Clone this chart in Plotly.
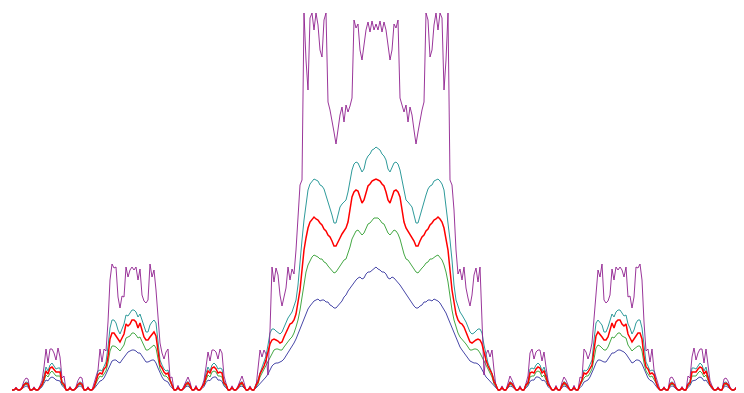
import plotly.graph_objects as go

# sample positions along the horizontal axis
position = list(range(12, 742, 2))

# ---- navy series ----
navy_left = [0,0,1,0,0,1.1,3,4.1,3,0,0,1,0,0,1.2,3.2,6.9,10,9.1,12,13,12,10,9.8,9,4.4,2.7,0,0,1.1,
             0,0,1.1,3.1,4.2,2.9,0,0,1.1,0,0,1.3,3.7,6.7,9,9.7,12,16,21,26,29,30,30,28,27,30,33,36,38,39,
             40,40,39,37,37,34,31,28,28,29,30,30,27,22,17,13,10,9,8,4.3,2.3,0,0,1.3,0,0,1.4,3.3,4.1,2.5,
             0,0,1.4,0,0,1.4,3.4,7.4,9.9,9.3,12,13,13,9.9,10,8.6,4.1,2.2,0,0,1.4,0,0,1.5,3.4,4,2.3,0,0,1.4,0,0]
navy_mid = [2,4,7,9,11,13,16,20,24,26,27,27,28,29,31,34,37,40,43,47,51,56,62,67,72,77,81,84,87,89,
            90,91,89,90,90,88,88,85,84,82,82,84,87,89,93,95,99,102,105,107,110,112,113,111,112,116,118,118,120,121,
            123,
            121,120,118,118,116,112,111,113,112,110,107,105,102,99,95,93,89,87,84,82,82,84,85,88,88,90,90,89,91,90,
            89,87,84,81,77,72,67,62,56,51,47,43,40,37,34,31,29,28,27,27,26,24,20,16,13,11,9,7,4,2]
navy_right = [0,0,1.4,0,0,2.3,4,3.4,1.5,0,0,1.4,0,0,2.2,4.1,8.6,10,9.9,13,13,12,9.3,9.9,7.4,3.4,1.4,0,0,1.4,
              0,0,2.5,4.1,3.3,1.4,0,0,1.3,0,0,2.3,4.3,8,9,10,13,17,22,27,30,30,29,28,28,31,34,37,37,39,
              40,40,39,38,36,33,30,27,28,30,30,29,26,21,16,12,9.7,9,6.7,3.7,1.3,0,0,1.1,0,0,2.9,4.2,3.1,1.1,
              0,0,1.1,0,0,2.7,4.4,9,9.8,10,12,13,12,9.1,10,6.9,3.2,1.2,0,0,1,0,0,3,4.1,3,1.1,0,0,1,0,0]

# ---- green series ----
green_left = [0,0,1.5,0,0,1.5,4.4,5.7,4.6,0,0,1.5,0,0,2.3,4.4,8.9,15,13,17,19,17,14,14,14,5.7,4.1,0,0,1.6,
              0,0,1.6,4.5,5.9,4.4,0,0,1.6,0,0,2,7,11,14,13,16,19,27,39,44,44,43,41,39,42,45,52,53,54,
              57,57,55,52,53,48,43,40,40,42,44,45,42,31,21,17,14,14,12,8.3,4.3,0,0,1.9,0,0,1.8,4.7,5.9,3.4,
              0,0,2,0,0,2.8,4.8,10,15,13,18,19,18,14,14,13,5.3,3.7,0,0,2,0,0,1.9,4.8,5.8,3,0,0,1.9,0,0]
green_mid = [3,6,13,17,21,25,28,33,37,40,41,41,40,40,43,46,48,51,53,57,63,70,80,92,108,118,125,130,133,135,
             134,133,131,131,128,127,124,122,120,117,118,121,124,127,130,131,136,143,151,156,159,160,158,155,157,162,166,167,170,172,
             172,
             172,170,167,166,162,157,155,158,160,159,156,151,143,136,131,130,127,124,121,118,117,120,122,124,127,128,131,131,133,134,
             135,133,130,125,118,108,92,80,70,63,57,53,51,48,46,43,40,40,41,41,40,37,33,28,25,21,17,13,6,3]
green_right = [0,0,1.9,0,0,3,5.8,4.8,1.9,0,0,2,0,0,3.7,5.3,13,14,14,18,19,18,13,15,10,4.8,2.8,0,0,2,
               0,0,3.4,5.9,4.7,1.8,0,0,1.9,0,0,4.3,8.3,12,14,14,17,21,31,42,45,44,42,40,40,43,48,53,52,55,
               57,57,54,53,52,45,42,39,41,43,44,44,39,27,19,16,13,14,11,7,2,0,0,1.6,0,0,4.4,5.9,4.5,1.6,
               0,0,1.6,0,0,4.1,5.7,14,14,14,17,19,17,13,15,8.9,4.4,2.3,0,0,1.5,0,0,4.6,5.7,4.4,1.5,0,0,1.5,0,0]

# ---- teal series ----
teal_left = [0,0,2.1,0,0,2.1,6.2,8.1,7.4,0,0,2.2,0,0,3,6.4,14,23,19,25,27,24,21,22,22,8.3,6.8,0,0,2.3,
             0,0,2.3,6.5,8.2,6.9,0,0,2.3,0,0,3.3,9,19,20,19,24,28,43,62,70,70,67,60,56,62,66,75,74,77,
             80,80,78,73,76,70,63,58,58,65,68,70,67,50,30,25,21,19,20,11,5.7,0,0,2.8,0,0,2.7,6.9,8.4,5.6,
             0,0,2.8,0,0,3.8,7,17,23,19,25,27,25,21,22,21,8,6.3,0,0,2.7,0,0,2.8,7,8.4,4.8,0,0,2.7,0,0]
teal_mid = [6,10,17,22,27,34,45,57,61,61,59,57,56,58,63,68,72,75,78,84,90,105,130,150,170,185,200,206,209,211,
            210,209,205,204,201,195,188,181,175,167,167,175,183,186,188,190,198,210,220,226,228,227,222,218,221,230,234,236,240,241,
            243,
            241,240,236,234,230,221,218,222,227,228,226,220,210,198,190,188,186,183,175,167,167,175,181,188,195,201,204,205,209,210,
            211,209,206,200,185,170,150,130,105,90,84,78,75,72,68,63,58,56,57,59,61,61,57,45,34,27,22,17,10,6]
teal_right = [0,0,2.7,0,0,4.8,8.4,7,2.8,0,0,2.7,0,0,6.3,8,21,22,21,25,27,25,19,23,17,7,3.8,0,0,2.8,
              0,0,5.6,8.4,6.9,2.7,0,0,2.8,0,0,5.7,11,20,19,21,25,30,50,67,70,68,65,58,58,63,70,76,73,78,
              80,80,77,74,75,66,62,56,60,67,70,70,62,43,28,24,19,20,19,9,3.3,0,0,2.3,0,0,6.9,8.2,6.5,2.3,
              0,0,2.3,0,0,6.8,8.3,22,22,21,24,27,25,19,23,14,6.4,3,0,0,2.2,0,0,7.4,8.1,6.2,2.1,0,0,2.1,0,0]

# ---- purple series ----
purple_left = [0,0,3,0,0,3.1,9.1,12,11,0,0,3.2,0,0,4.4,9.3,23,41,27,41,41,37,30,42,33,12,14,0,0,3.5,
               0,0,3.4,9.6,13,12,0,0,3.3,0,0,6.7,13,20,41,28,41,39,68,110,126,122,123,93,82,94,93,123,113,120,
               123,120,123,110,121,95,89,87,90,126,113,120,100,70,47,37,31,38,41,12,13,0,0,4.6,0,0,4.6,10,13,7.8,
               0,0,4.5,0,0,4,10,23,38,29,40,40,38,31,41,37,14,6.7,0,0,4.2,0,0,4.1,9.9,14,7.6,0,0,4.1,0,0]
purple_mid = [3,20,40,33,40,36,15,60,123,108,122,115,95,84,92,102,123,110,121,116,140,180,205,210,377,330,300,372,377,360,
              377,365,340,333,370,377,288,280,270,258,246,260,275,283,268,285,278,284,292,370,362,366,340,330,345,360,368,358,369,360,
              366,
              360,369,358,368,360,345,330,340,366,362,370,292,284,278,285,268,283,275,260,246,258,270,280,288,377,370,333,340,365,377,
              360,377,372,300,330,377,210,205,180,140,116,121,110,123,102,92,84,95,115,122,108,123,60,15,36,40,33,40,20,3]
purple_right = [0,0,4.1,0,0,7.6,14,9.9,4.1,0,0,4.2,0,0,6.7,14,37,41,31,38,40,40,29,38,23,10,4,0,0,4.5,
                0,0,7.8,13,10,4.6,0,0,4.6,0,0,13,12,41,38,31,37,47,70,100,120,113,126,90,87,89,95,121,110,123,
                120,123,120,113,123,93,94,82,93,123,122,126,110,68,39,41,28,41,20,13,6.7,0,0,3.3,0,0,12,13,9.6,3.4,
                0,0,3.5,0,0,14,12,33,42,30,37,41,41,27,41,23,9.3,4.4,0,0,3.2,0,0,11,12,9.1,3.1,0,0,3,0,0]

# ---- red series ----
red_left = [0,0,1.8,0,0,1.8,5.3,6.9,6,0,0,1.8,0,0,2.7,5.3,11,19,16,22,23,21,18,18,18,7.3,5.6,0,0,1.9,
            0,0,2,5.5,7.1,5.6,0,0,2,0,0,2.7,8,15,17,16,21,23,33,51,57,57,54,51,48,52,56,66,64,66,
            70,70,68,62,67,60,53,50,50,53,56,58,54,40,25,22,18,16,17,10,5.3,0,0,2.4,0,0,2.3,5.8,7.4,4.4,
            0,0,2.5,0,0,3.3,5.9,13,19,17,22,23,21,17,18,17,7,5.1,0,0,2.4,0,0,2.4,5.9,7.3,3.7,0,0,2.3,0,0]
red_mid = [5,8,16,20,24,30,37,46,50,51,50,49,47,48,53,58,63,66,67,70,76,88,100,120,140,152,162,168,171,173,
           171,170,167,165,161,159,155,153,149,144,144,149,152,156,159,162,168,180,193,198,200,199,192,187,190,198,204,206,209,210,
           211,
           210,209,206,204,198,190,187,192,199,200,198,193,180,168,162,159,156,152,149,144,144,149,153,155,159,161,165,167,170,171,
           173,171,168,162,152,140,120,100,88,76,70,67,66,63,58,53,48,47,49,50,51,50,46,37,30,24,20,16,8,5]
red_right = [0,0,2.3,0,0,3.7,7.3,5.9,2.4,0,0,2.4,0,0,5.1,7,17,18,17,21,23,22,17,19,13,5.9,3.3,0,0,2.5,
             0,0,4.4,7.4,5.8,2.3,0,0,2.4,0,0,5.3,10,17,16,18,22,25,40,54,58,56,53,50,50,53,60,67,62,68,
             70,70,66,64,66,56,52,48,51,54,57,57,51,33,23,21,16,17,15,8,2.7,0,0,2,0,0,5.6,7.1,5.5,2,
             0,0,1.9,0,0,5.6,7.3,18,18,18,21,23,22,16,19,11,5.3,2.7,0,0,1.8,0,0,6,6.9,5.3,1.8,0,0,1.8,0,0]

series = [
    ("navy", navy_left + navy_mid + navy_right, "#4848a8", 1),
    ("green", green_left + green_mid + green_right, "#45a845", 1),
    ("teal", teal_left + teal_mid + teal_right, "#2f9b9b", 1),
    ("purple", purple_left + purple_mid + purple_right, "#8f1f8f", 0.9),
    ("red", red_left + red_mid + red_right, "#ff0000", 1.5),
]

fig = go.Figure()
for name, ys, color, w in series:
    fig.add_trace(go.Scatter(x=position[:len(ys)], y=ys, mode="lines",
                             line=dict(color=color, width=w), name=name))

fig.update_layout(width=736, height=385, margin=dict(l=0, r=0, t=0, b=0),
                  paper_bgcolor="white", plot_bgcolor="white", showlegend=False)
fig.update_xaxes(visible=False, range=[8, 744])
fig.update_yaxes(visible=False, range=[-3, 382])
fig.write_html("out.html")
